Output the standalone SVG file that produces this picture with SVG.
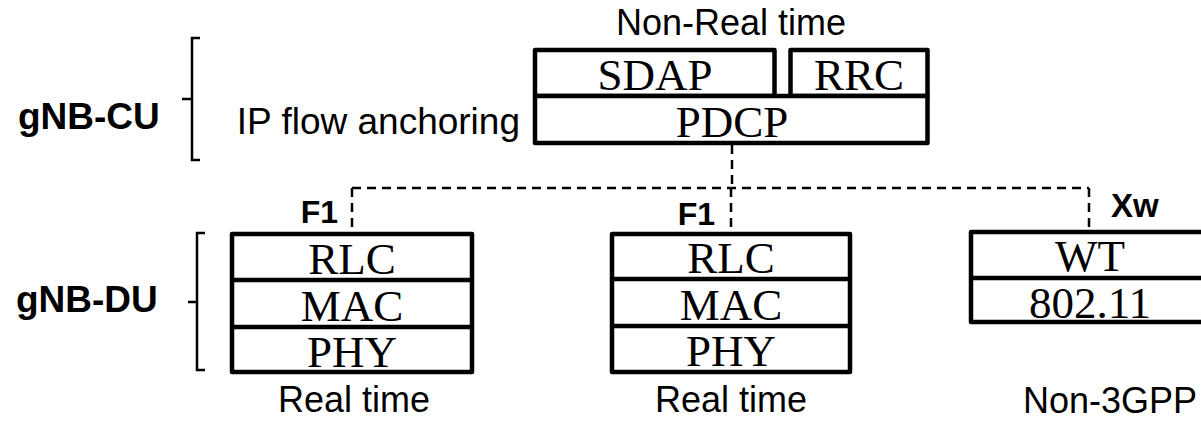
<svg xmlns="http://www.w3.org/2000/svg" width="1201" height="421" viewBox="0 0 1201 421">
<style>
.box{fill:#fff;stroke:#000;stroke-width:4.5;stroke-linejoin:round}
.div{stroke:#000;stroke-width:4.5;fill:none}
.lay{font-family:"Liberation Serif","DejaVu Serif",serif;font-size:45px;text-anchor:middle;fill:#000}
.lbl{font-family:"Liberation Sans",Arial,sans-serif;font-size:36px;text-anchor:middle;fill:#000}
.big{font-family:"Liberation Sans",Arial,sans-serif;font-size:37px;fill:#000}
.bold{font-family:"Liberation Sans",Arial,sans-serif;font-weight:bold;fill:#000}
.dash{stroke:#000;stroke-width:2.5;fill:none;stroke-dasharray:9 6}
.brace{stroke:#000;stroke-width:2.5;fill:none}
</style>
<g id="connectors">
<path class="dash" d="M732 145 V188"/>
<path class="dash" d="M352 188 H1089"/>
<path class="dash" d="M352 188 V231"/>
<path class="dash" d="M731 188 V231"/>
<path class="dash" d="M1089 188 V229"/>
</g>
<g id="gnb-cu-label">
<text class="bold" x="18" y="129" font-size="37">gNB-CU</text>
<path class="brace" d="M200 38 H192 V160 H200 M192 99 H182"/>
</g>
<g id="gnb-du-label">
<text class="bold" x="16" y="312" font-size="37">gNB-DU</text>
<path class="brace" d="M205 233 H197 V370 H205 M197 302 H188"/>
</g>
<g id="cu">
<text class="lbl" x="731" y="35" font-size="35">Non-Real time</text>
<text class="big" x="520" y="134" text-anchor="end">IP flow anchoring</text>
<rect class="box" x="535" y="50" width="239.5" height="46"/>
<rect class="box" x="790.5" y="50" width="137" height="46"/>
<rect class="box" x="535" y="96" width="392.5" height="47"/>
<text class="lay" x="655" y="90">SDAP</text>
<text class="lay" x="859" y="90">RRC</text>
<text class="lay" x="732" y="137">PDCP</text>
</g>
<g id="du1">
<text class="bold" x="338" y="223" font-size="32" text-anchor="end">F1</text>
<rect class="box" x="232" y="234" width="240" height="138"/>
<path class="div" d="M232 280 H472 M232 327 H472"/>
<text class="lay" x="352" y="274">RLC</text>
<text class="lay" x="352" y="321">MAC</text>
<text class="lay" x="352" y="367">PHY</text>
<text class="lbl" x="354" y="412">Real time</text>
</g>
<g id="du2">
<text class="bold" x="715" y="225" font-size="32" text-anchor="end">F1</text>
<rect class="box" x="612" y="234" width="238" height="138"/>
<path class="div" d="M612 279 H850 M612 326 H850"/>
<text class="lay" x="731" y="273">RLC</text>
<text class="lay" x="731" y="320">MAC</text>
<text class="lay" x="731" y="366">PHY</text>
<text class="lbl" x="731" y="412">Real time</text>
</g>
<g id="non3gpp">
<text class="bold" x="1111" y="217" font-size="33">Xw</text>
<rect class="box" x="971" y="232" width="240" height="90"/>
<path class="div" d="M971 278 H1211"/>
<text class="lay" x="1090" y="271">WT</text>
<text class="lay" x="1090" y="318">802.11</text>
<text class="lbl" x="1110" y="413">Non-3GPP</text>
</g>
</svg>
